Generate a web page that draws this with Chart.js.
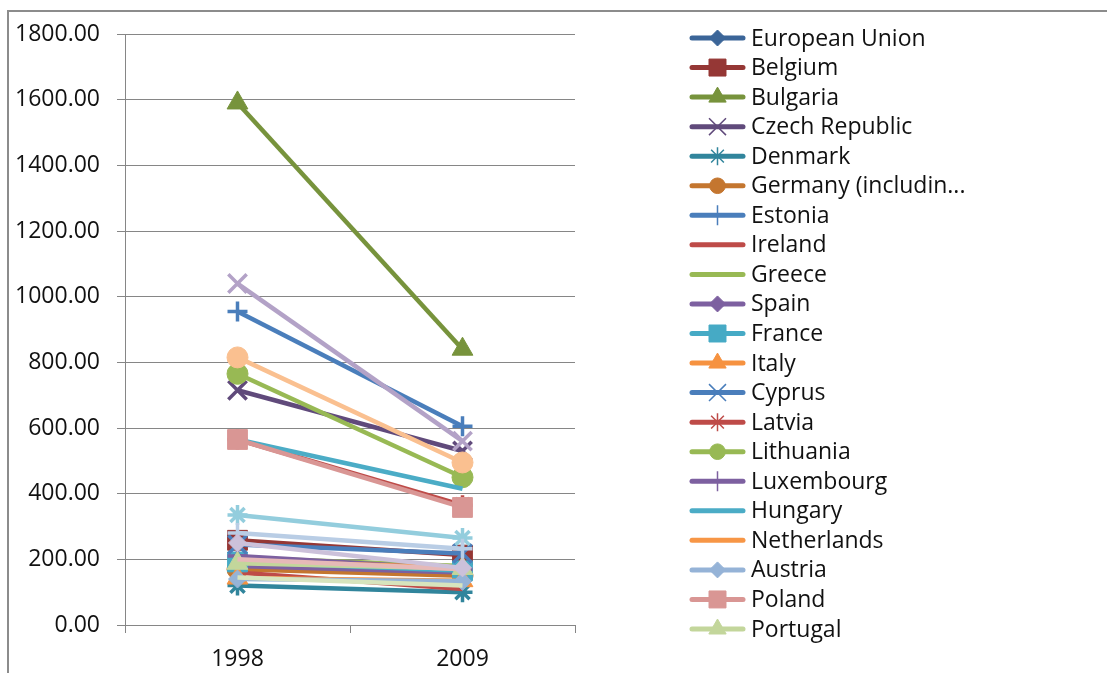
<!DOCTYPE html>
<html>
<head>
<meta charset="utf-8">
<title>Energy intensity 1998 vs 2009</title>
<script src="https://cdn.jsdelivr.net/npm/chart.js@4/dist/chart.umd.min.js"></script>
<style>
  html, body { margin: 0; padding: 0; background: #ffffff; }
  #wrap { width: 1107px; height: 673px; position: relative; overflow: hidden; }
  canvas { display: block; }
</style>
</head>
<body>
<div id="wrap"><canvas id="chart" width="1107" height="673"></canvas></div>
<script>
// ---- data ----
const categories = ['1998', '2009'];

const countries = [
  'European Union', 'Belgium', 'Bulgaria', 'Czech Republic', 'Denmark',
  'Germany (including former GDR)', 'Estonia', 'Ireland', 'Greece', 'Spain',
  'France', 'Italy', 'Cyprus', 'Latvia', 'Lithuania', 'Luxembourg', 'Hungary',
  'Netherlands', 'Austria', 'Poland', 'Portugal', 'Romania', 'Slovenia',
  'Slovakia', 'Finland', 'Sweden', 'United Kingdom', 'Croatia'
];

const values1998 = [
  195, 258, 1590, 715, 120,
  170, 955, 160, 205, 180,
  192, 143, 245, 565, 765, 210, 565,
  195, 140, 565, 188, 1040, 335,
  815, 280, 200, 145, 250
];

const values2009 = [
  168, 213, 840, 530, 100,
  150, 605, 110, 180, 160,
  165, 135, 218, 365, 450, 170, 415,
  175, 133, 358, 172, 560, 265,
  495, 232, 170, 120, 174
];

const yTickValues = [0, 200, 400, 600, 800, 1000, 1200, 1400, 1600, 1800];

// ---- styling ----
const seriesColors = [
  '#3B6598', '#953735', '#77933C', '#604A7B', '#31859C',
  '#C4762F', '#4A7EBB', '#BE4B48', '#98B954', '#7D60A0',
  '#46AAC5', '#F69240', '#4A7EBB', '#BE4B48', '#98B954', '#7D60A0', '#4BACC6',
  '#F79646', '#95B3D7', '#D99694', '#C3D69B', '#B3A2C7', '#93CDDD',
  '#FAC090', '#B9CDE5', '#E6B9B8', '#D7E4BD', '#CCC1DA'
];

// Excel-style marker cycle: diamond, square, triangle, x, asterisk, circle, plus, none, none
const markerCycle = ['rectRot', 'rect', 'triangle', 'crossRot', 'star', 'circle', 'cross', false, false];
const markerRadius = { rectRot: 9, rect: 14, triangle: 12, crossRot: 13, star: 10, circle: 10.5, cross: 10 };
const legendRadius = { rectRot: 8, rect: 12, triangle: 10, crossRot: 12, star: 9, circle: 7.8, cross: 10 };
const strokeOnly = ['crossRot', 'star', 'cross'];

const FONT_FAMILY = '"Open Sans", "Noto Sans", sans-serif';
const FONT_SIZE = 23;
const TEXT_COLOR = '#111111';
const AXIS_COLOR = '#868686';
const LEGEND_ROWS = 21;

const datasets = countries.map((name, i) => {
  const style = markerCycle[i % markerCycle.length];
  const color = seriesColors[i];
  const lineMarker = style && strokeOnly.includes(style);
  return {
    label: name,
    data: [values1998[i], values2009[i]],
    borderColor: color,
    backgroundColor: color,
    borderWidth: 4.5,
    tension: 0,
    pointStyle: style,
    pointRadius: style ? markerRadius[style] : 0,
    pointHoverRadius: style ? markerRadius[style] : 0,
    pointBackgroundColor: color,
    pointBorderColor: color,
    pointBorderWidth: lineMarker ? 3.5 : 1,
    order: countries.length - i
  };
});

// ---- outer frame of the chart object ----
const framePlugin = {
  id: 'frame',
  beforeDraw(chart) {
    const ctx = chart.ctx;
    ctx.save();
    ctx.fillStyle = '#ffffff';
    ctx.fillRect(0, 0, chart.width, chart.height);
    ctx.strokeStyle = '#8c8c8c';
    ctx.lineWidth = 2;
    ctx.beginPath();
    ctx.moveTo(8, chart.height + 5);
    ctx.lineTo(8, 11);
    ctx.lineTo(chart.width + 5, 11);
    ctx.stroke();
    ctx.restore();
  }
};

// ---- legend on the right: line sample with marker, then name ----
function fitText(ctx, text, maxW) {
  if (ctx.measureText(text).width <= maxW) return text;
  let s = text;
  while (s.length > 1 && ctx.measureText(s + '...').width > maxW) s = s.slice(0, -1);
  return s + '...';
}

const sideLegend = {
  id: 'sideLegend',
  afterDraw(chart) {
    const ctx = chart.ctx;
    const x0 = 692, x1 = 743, xm = 717.5, xt = 751;
    const top = 38, step = 29.55;
    ctx.save();
    ctx.font = FONT_SIZE + 'px ' + FONT_FAMILY;
    ctx.textBaseline = 'middle';
    ctx.textAlign = 'left';
    const rows = Math.min(LEGEND_ROWS, chart.data.datasets.length);
    for (let i = 0; i < rows; i++) {
      const ds = chart.data.datasets[i];
      const y = top + i * step;
      ctx.strokeStyle = ds.borderColor;
      ctx.lineWidth = 5;
      ctx.lineCap = 'round';
      ctx.beginPath();
      ctx.moveTo(x0, y);
      ctx.lineTo(x1, y);
      ctx.stroke();
      if (ds.pointStyle) {
        const lineMarker = strokeOnly.includes(ds.pointStyle);
        ctx.fillStyle = ds.pointBackgroundColor;
        ctx.strokeStyle = ds.pointBorderColor;
        ctx.lineWidth = lineMarker ? 1.5 : 1;
        ctx.lineCap = 'butt';
        Chart.helpers.drawPoint(ctx, {
          pointStyle: ds.pointStyle,
          radius: legendRadius[ds.pointStyle],
          rotation: 0,
          borderWidth: ctx.lineWidth
        }, xm, y);
      }
      ctx.fillStyle = TEXT_COLOR;
      ctx.fillText(fitText(ctx, ds.label, 220), xt, y + 1);
    }
    ctx.restore();
  }
};

new Chart(document.getElementById('chart'), {
  type: 'line',
  data: { labels: categories, datasets },
  options: {
    responsive: false,
    animation: false,
    events: [],
    layout: { padding: { left: 0, top: 34, right: 532, bottom: 0 } },
    plugins: {
      legend: { display: false },
      tooltip: { enabled: false },
      title: { display: false }
    },
    scales: {
      x: {
        type: 'category',
        offset: true,
        grid: {
          offset: true,
          drawOnChartArea: false,
          drawTicks: true,
          tickLength: 8,
          color: AXIS_COLOR
        },
        border: { display: true, color: AXIS_COLOR, width: 1 },
        ticks: {
          color: TEXT_COLOR,
          font: { family: FONT_FAMILY, size: FONT_SIZE },
          padding: 13,
          maxRotation: 0
        },
        afterFit(scale) { scale.height = 48; }
      },
      y: {
        min: 0,
        max: 1800,
        afterBuildTicks(scale) { scale.ticks = yTickValues.map(v => ({ value: v })); },
        grid: {
          color: AXIS_COLOR,
          lineWidth: 1,
          drawTicks: true,
          tickLength: 8
        },
        border: { display: true, color: AXIS_COLOR, width: 1 },
        ticks: {
          color: TEXT_COLOR,
          font: { family: FONT_FAMILY, size: FONT_SIZE },
          padding: 17,
          autoSkip: false,
          callback: v => Number(v).toFixed(2)
        },
        afterFit(scale) { scale.width = 125; }
      }
    }
  },
  plugins: [framePlugin, sideLegend]
});
</script>
</body>
</html>
